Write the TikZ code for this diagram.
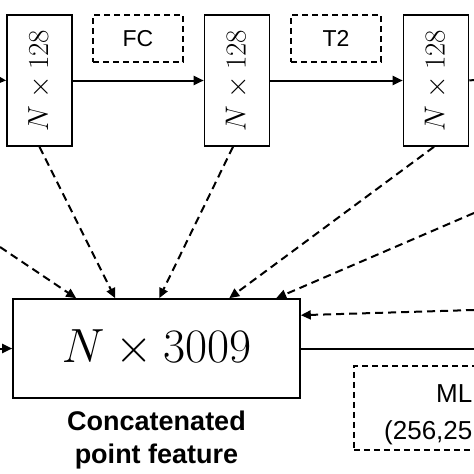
\RequirePackage{fix-cm}
\documentclass[tikz,border=0pt]{standalone}
\usepackage{fontspec}
\setmainfont{Liberation Sans}
\usetikzlibrary{math,arrows.meta,positioning}

\begin{document}
\begin{tikzpicture}[x=1pt, y=-1pt,
  feat/.style={draw, line width=1.6pt, minimum width=65pt, minimum height=131pt, inner sep=0pt},
  op/.style={draw, line width=1.6pt, dash pattern=on 6pt off 4pt, minimum width=90pt, minimum height=47pt,
    inner sep=0pt, font=\fontsize{23}{26}\selectfont},
  link/.style={line width=2pt, -{Triangle[length=10pt,width=9pt]}},
  skip/.style={link, dash pattern=on 8pt off 5pt}]
  \useasboundingbox (0,0) rectangle (474,474);
  \tikzmath{\r = 80.5; \s = 29;}
  % feature blocks
  \node[feat] (f1) at (39.5,\r) {\rotatebox{90}{\fontsize{\s}{\s}\selectfont $N\times128$}};
  \node[feat] (f2) at (237,\r) {\rotatebox{90}{\fontsize{\s}{\s}\selectfont $N\times128$}};
  \node[feat] (f3) at (436,\r) {\rotatebox{90}{\fontsize{\s}{\s}\selectfont $N\times128$}};
  \node[op] (fc) at (138,38.5) {FC};
  \node[op] (t2) at (336,38.5) {T2};

  \node[draw, line width=1.6pt, minimum width=287pt, minimum height=99pt, inner sep=0pt] (cat) at (156.5,348.5)
    {\fontsize{48}{50}\selectfont $N\times3009$};
  \node[below=12pt of cat, inner sep=0pt, align=center, font=\bfseries\fontsize{27}{33}\selectfont] (catlbl)
    {Concatenated\\point feature};

  \node[op, anchor=north west, minimum width=160pt, minimum height=84pt] (mlp) at (353,365) {};
  \node[anchor=base west, inner sep=0pt, font=\fontsize{26}{30}\selectfont] (mlpa) at (436,402) {ML};
  \node[anchor=base west, inner sep=0pt, font=\fontsize{26}{30}\selectfont] (mlpb) at (384,439) {(256,25};

  % free ends at the border
  \coordinate (inA) at (0,80);
  \coordinate (outA) at (474,80);
  \coordinate (inB) at (0,348.5);
  \coordinate (outB) at (474,348.5);
  \coordinate (skipL) at (0,247);
  \coordinate (skipR) at (474,213);
  \coordinate (back) at (474,310);

  \draw[link] (inA) -- (f1.west);
  \draw[link] (f1.east) -- (f2.west);
  \draw[link] (f2.east) -- (f3.west);
  \draw[line width=2pt] (f3.east) -- (outA);
  \draw[link] (inB) -- (cat.west);
  \draw[line width=2pt] (cat.east) -- (outB);

  \draw[skip] (skipL) -- ([xshift=64pt]cat.north west);
  \draw[skip] (f1.south) -- ([xshift=103pt]cat.north west);
  \draw[skip] ([xshift=-4pt]f2.south) -- ([xshift=147pt]cat.north west);
  \draw[skip] ([xshift=-2pt]f3.south) -- ([xshift=217pt]cat.north west);
  \draw[skip] (skipR) -- ([xshift=264pt]cat.north west);
  \draw[skip] (back) -- ([yshift=-17pt]cat.north east);
\end{tikzpicture}
\end{document}
